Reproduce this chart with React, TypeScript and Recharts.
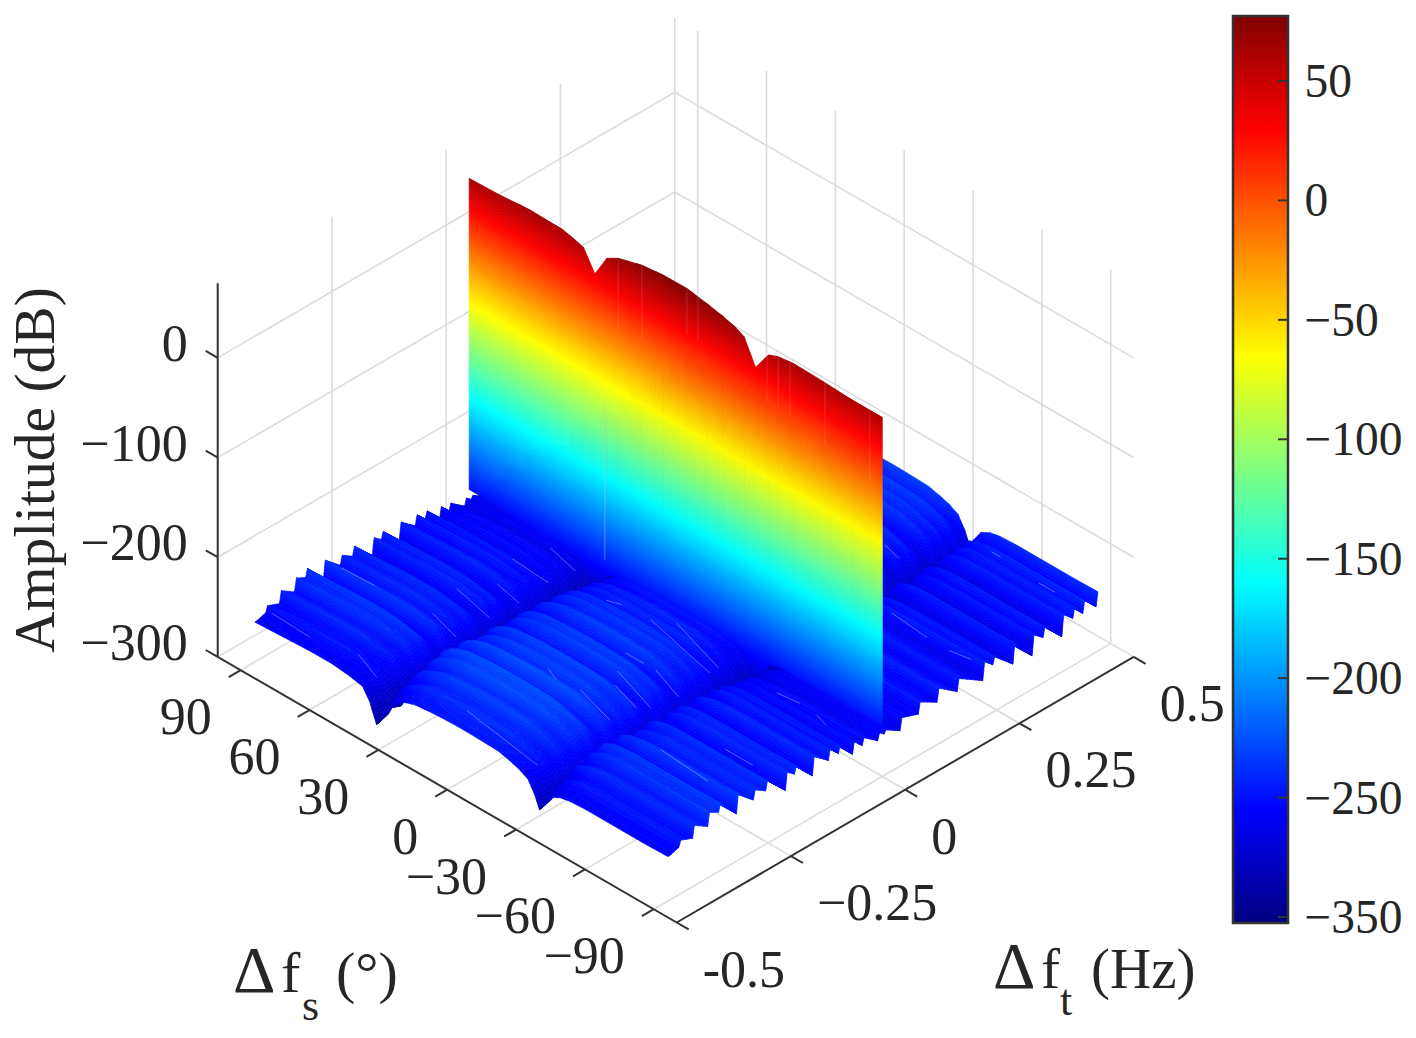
import React from 'react';
import { ScatterChart, Scatter, XAxis, YAxis, ComposedChart, Bar } from 'recharts';

// ---- values ----
const fsTicks = [90, 60, 30, 0, -30, -60, -90];
const fsTickLabels = ['90', '60', '30', '0', '−30', '−60', '−90'];
const ftTicks = [-0.5, -0.25, 0, 0.25, 0.5];
const ftTickLabels = ['-0.5', '−0.25', '0', '0.25', '0.5'];
const zTicks = [0, -100, -200, -300];
const zTickLabels = ['0', '−100', '−200', '−300'];

// dome profile along Δfs (drop in dB from the top of the dome)
const archFs = [90, 82, 74, 65, 56, 49, 43, 40, 37, 34, 31, 28, 24, 20, 14, 8, 2, -4, -10, -16, -21, -25, -29, -32, -34, -36, -39, -43, -47, -54, -62, -70, -80, -90];
const archDrop = [-13, -12, -11, -10, -10, -12, -15, -26, -45, -30, -18, -11, -6, -3, -1.5, -0.5, 0, 0, -0.5, -1, -4, -7, -12, -24, -36, -28, -17, -12, -10, -9, -9, -9, -9, -8.5];

// ripples along Δft: where each step rises, its foot and its tip (dB)
const toothFt = [-0.469, -0.445, -0.415, -0.382, -0.358, -0.319, -0.282, -0.255, -0.212, -0.192, -0.153, -0.118, -0.096, -0.065, -0.044, -0.01, 0.004, 0.039, 0.079, 0.12, 0.164, 0.22, 0.242, 0.286, 0.328, 0.352, 0.393, 0.417, 0.439, 0.468];
const toothFoot = [-247, -244, -243, -240, -232, -244, -240, -238, -249, -238, -250, -244, -243, -252, -249, -253, -250, -256, -250, -249, -250, -254, -244, -255, -258, -246, -256, -244, -245, -246];
const toothTip = [-247, -238, -231, -227, -224, -226, -231, -229, -232, -231, -232, -234, -236, -240, -242, -246, -247, -244, -239, -236, -238, -236, -237, -235, -238, -236, -235, -234, -233, -232];

// the tall wall at Δft = 0
const wallFs = [90, 76.6, 63.4, 49, 44.6, 40.2, 35.2, 30, 25, 14.8, 5.4, -4.8, -13.5, -20.8, -25.8, -29.8, -34.8, -40.4, -44.7, -51.2, -64.4, -77.4, -90];
const wallTop = [60.1, 61.4, 63.9, 63, 60.6, 57.4, 37.3, 59.9, 66.6, 73.4, 75.9, 76.2, 72.7, 69, 65.7, 61, 36.9, 56.7, 60.8, 62.8, 61.9, 60.2, 60.1];
const wallFoot = [-252, -252, -252, -252, -253, -258, -290, -258, -252, -252, -251, -251, -251, -251, -251, -255, -288, -255, -250, -250, -249, -249, -248.4];

// pale seams on the wall
const seamFs = [25.1, 14.7, -4.9, -9.7, -39.8, -44.6, -49.8, -65, -84.6];
const seamHigh = [65.5, 72.7, 75.9, 74, 57, 61, 63, 62, 60.5];
const seamLow = [-5, 0, 30, 30, 10, 10, 10, 0, -10];

// pale wire glints lying on the ripples, as Δfs/Δft ends at the ripple height
const GLINT_Z = -240;
const glintFsA = [-14, -15, -20, -23, -10, -10, 50, 46, 44, -3, 14, 3, 47, 51, 48, 82, 84, 1, -54, -68, -80, -26, -53, -58, -52, -75, -74];
const glintFtA = [-0.279, -0.203, -0.233, -0.159, -0.048, -0.16, -0.106, -0.044, -0.17, -0.07, -0.082, -0.442, -0.296, -0.223, -0.454, -0.471, -0.31, -0.274, -0.304, -0.233, 0.198, 0.327, 0.206, -0.07, 0.43, -0.069, 0.423];
const glintFsB = [-32, -36, -33, -38, -36, -18, 33, 32, 32, -36, 9, -33, 33, 33, 35, 65, 70, -5, -76, -80, -88, -34, -70, -67, -56, -81, -81];
const glintFtB = [-0.304, -0.236, -0.252, -0.185, -0.087, -0.16, -0.112, -0.06, -0.182, -0.106, -0.073, -0.468, -0.315, -0.242, -0.478, -0.475, -0.307, -0.286, -0.312, -0.233, 0.205, 0.317, 0.198, -0.065, 0.43, -0.077, 0.423];

// colour bar
const barTicks = [50, 0, -50, -100, -150, -200, -250, -300];
const barTickLabels = ['50', '0', '−50', '−100', '−150', '−200', '−250', '−350'];
const barRange = [-302.5, 77.2];

// ---- view ----
const FONT = '"Liberation Serif", "Times New Roman", serif';
const INK = '#262626';
const Z_TOP = 75;
const project = (fs: number, ft: number, z: number) => {
  const u = (fs + 100) / 200;
  const v = ft + 0.5;
  return {
    x: 676.7 - 459 * u + 457 * v,
    y: 922.5 - 265.6 * u - 265.6 * v - (z + 300) * 0.9967,
  };
};

const jet = (p: number) => {
  const c = (t: number) => Math.round(255 * Math.max(0, Math.min(1, t)));
  const r = Math.min(4 * p - 1.5, -4 * p + 4.5);
  const g = Math.min(4 * p - 0.5, -4 * p + 3.5);
  const b = Math.min(4 * p + 0.5, -4 * p + 2.5);
  return `rgb(${c(r)},${c(g)},${c(b)})`;
};
const colorOf = (z: number) => jet((z - barRange[0]) / (barRange[1] - barRange[0]));

// ---- meshes: four table rows per cell ----
type V = { x: number; y: number; z: number };
const cell = (a: number[], b: number[], c: number[], d: number[]): V[] =>
  [a, b, c, d].map(([fs, ft, z]) => ({ ...project(fs, ft, z), z }));

const columns = toothFt.flatMap((ft, i) => [
  { ft, h: toothFoot[i] },
  { ft: ft + 0.004, h: toothTip[i] },
]);

const floorCells = (cols: { ft: number; h: number }[]) => {
  const rows: V[] = [];
  for (let c = cols.length - 1; c > 0; c--) {
    for (let f = 0; f < archFs.length - 1; f++) {
      const hi = cols[c];
      const lo = cols[c - 1];
      rows.push(
        ...cell(
          [archFs[f], hi.ft, hi.h + archDrop[f]],
          [archFs[f + 1], hi.ft, hi.h + archDrop[f + 1]],
          [archFs[f + 1], lo.ft, lo.h + archDrop[f + 1]],
          [archFs[f], lo.ft, lo.h + archDrop[f]],
        ),
      );
    }
  }
  return rows;
};
const floorBack = floorCells(columns.filter((c) => c.ft > 0));
const floorFront = floorCells(columns.filter((c) => c.ft < 0.005));

const wallRows: V[] = [];
wallFs.slice(0, -1).forEach((fs, i) => {
  wallRows.push(
    ...cell(
      [fs, 0, wallFoot[i]],
      [wallFs[i + 1], 0, wallFoot[i + 1]],
      [wallFs[i + 1], 0, wallTop[i + 1]],
      [fs, 0, wallTop[i]],
    ),
  );
});

// ---- guide lines: two rows per segment ----
const seg = (a: number[], b: number[]) => [project(a[0], a[1], a[2]), project(b[0], b[1], b[2])];
const gridRows = [
  ...[0, -100, -200, -300].flatMap((z) => [...seg([100, -0.5, z], [100, 0.5, z]), ...seg([100, 0.5, z], [-100, 0.5, z])]),
  ...ftTicks.flatMap((ft) => [...seg([100, ft, -300], [100, ft, Z_TOP]), ...seg([100, ft, -300], [-100, ft, -300])]),
  ...fsTicks.flatMap((fs) => [...seg([fs, 0.5, -300], [fs, 0.5, Z_TOP]), ...seg([fs, 0.5, -300], [fs, -0.5, -300])]),
];
const axisRows = [
  ...seg([100, -0.5, -300], [100, -0.5, Z_TOP]),
  ...seg([100, -0.5, -300], [-100, -0.5, -300]),
  ...seg([-100, -0.5, -300], [-100, 0.5, -300]),
  ...zTicks.flatMap((z) => seg([100, -0.5, z], [105.2, -0.5, z])),
  ...fsTicks.flatMap((fs) => seg([fs, -0.5, -300], [fs, -0.526, -300])),
  ...ftTicks.flatMap((ft) => seg([-100, ft, -300], [-105.2, ft, -300])),
];
const seamRows = seamFs.flatMap((fs, i) => seg([fs, 0, seamHigh[i]], [fs, 0, seamLow[i]]));
const streakRows = seg([30.9, 0, -86], [30.9, 0, -244]);
const glintRows = glintFsA.flatMap((fs, i) => seg([fs, glintFtA[i], GLINT_Z], [glintFsB[i], glintFtB[i], GLINT_Z]));

const labelRows = [
  ...zTicks.map((z, i) => ({ ...project(100, -0.5, z), text: zTickLabels[i], dx: -30, dy: -14.5, anchor: 'end' })),
  ...fsTicks.map((fs, i) => ({ ...project(fs, -0.5, -300), text: fsTickLabels[i], dx: -29, dy: 46.5, anchor: 'end' })),
  ...ftTicks.map((ft, i) => ({ ...project(-100, ft, -300), text: ftTickLabels[i], dx: 26, dy: 46.5, anchor: 'start' })),
];

// ---- renderers ----
const NoDot = () => null;

const clip = (poly: V[], level: number, keepAbove: boolean) => {
  const out: V[] = [];
  const inside = (p: V) => (keepAbove ? p.z >= level : p.z <= level);
  poly.forEach((p, i) => {
    const q = poly[(i + 1) % poly.length];
    if (inside(p)) out.push(p);
    if (inside(p) !== inside(q)) {
      const t = (level - p.z) / (q.z - p.z);
      out.push({ x: p.x + t * (q.x - p.x), y: p.y + t * (q.y - p.y), z: level });
    }
  });
  return out;
};

const meshLine = (rows: V[], step: number) => (props: any) => {
  const pts = props.points as { x: number; y: number }[];
  const out: React.ReactNode[] = [];
  for (let i = 0; i + 3 < pts.length; i += 4) {
    const quad: V[] = [0, 1, 2, 3].map((k) => ({ x: pts[i + k].x, y: pts[i + k].y, z: rows[i + k].z }));
    const zs = quad.map((p) => p.z);
    const lo = Math.floor(Math.min(...zs) / step);
    const hi = Math.ceil(Math.max(...zs) / step);
    for (let k = lo; k < hi; k++) {
      const a = k * step;
      const b = (k + 1) * step;
      const poly = clip(clip(quad, a, true), b, false);
      if (poly.length < 3) continue;
      const color = colorOf((a + b) / 2);
      out.push(
        <polygon
          key={`${i}-${k}`}
          points={poly.map((p) => `${p.x.toFixed(1)},${p.y.toFixed(1)}`).join(' ')}
          fill={color}
          stroke={color}
          strokeWidth={0.7}
        />,
      );
    }
  }
  return <g>{out}</g>;
};

const segmentLine = (color: string, width: number) => (props: any) => {
  const pts = props.points as { x: number; y: number }[];
  let d = '';
  for (let i = 0; i + 1 < pts.length; i += 2) {
    d += `M${pts[i].x} ${pts[i].y}L${pts[i + 1].x} ${pts[i + 1].y}`;
  }
  return <path d={d} stroke={color} strokeWidth={width} fill="none" />;
};

const TickLabel = (p: any) => (
  <text
    x={p.cx + p.payload.dx}
    y={p.cy + p.payload.dy + 17.6}
    textAnchor={p.payload.anchor}
    fontFamily={FONT}
    fontSize={52}
    fill={INK}
  >
    {p.payload.text}
  </text>
);

const ZTitle = (p: any) => (
  <text
    transform={`translate(${p.cx},${p.cy}) rotate(-90)`}
    textAnchor="middle"
    fontFamily={FONT}
    fontSize={57.5}
    fill={INK}
  >
    Amplitude (dB)
  </text>
);
const FsTitle = (p: any) => (
  <text x={p.cx} y={p.cy} fontFamily={FONT} fontSize={58} fill={INK}>
    <tspan fontSize={66}>Δ</tspan>
    <tspan x={p.cx + 48}>f</tspan>
    <tspan x={p.cx + 69} dy={28} fontSize={44}>s</tspan>
    <tspan x={p.cx + 103} dy={-28}>(°)</tspan>
  </text>
);
const FtTitle = (p: any) => (
  <text x={p.cx} y={p.cy} fontFamily={FONT} fontSize={57} fill={INK}>
    <tspan fontSize={66}>Δ</tspan>
    <tspan x={p.cx + 48}>f</tspan>
    <tspan x={p.cx + 67} dy={27} fontSize={44}>t</tspan>
    <tspan x={p.cx + 98} dy={-27}>(Hz)</tspan>
  </text>
);

const BarTick = (p: any) => {
  const i = barTicks.indexOf(p.payload.value);
  return (
    <g>
      <line x1={p.x - 10} x2={p.x} y1={p.y} y2={p.y} stroke="#333" strokeWidth={2} />
      <text x={p.x + 16.5} y={p.y + 16} fontFamily={FONT} fontSize={47.5} fill={INK}>
        {barTickLabels[i]}
      </text>
    </g>
  );
};

const jetStops = [0, 0.125, 0.25, 0.375, 0.5, 0.625, 0.75, 0.875, 1];

const FLOOR_BACK = meshLine(floorBack, 3);
const WALL = meshLine(wallRows, 3);
const FLOOR_FRONT = meshLine(floorFront, 3);
const GRID = segmentLine('#dcdcdc', 1.6);
const AXES = segmentLine('#333333', 2);
const SEAMS = segmentLine('rgba(255,255,255,0.14)', 1);
const STREAK = segmentLine('rgba(190,200,210,0.3)', 1.6);
const GLINTS = segmentLine('rgba(170,190,255,0.55)', 0.9);

export default function App() {
  return (
    <div style={{ position: 'absolute', left: 0, top: 0, width: 1416, height: 1038, overflow: 'hidden', background: '#fff' }}>
      <div style={{ position: 'absolute', left: 0, top: 0 }}>
        <ScatterChart width={1416} height={1038} margin={{ top: 0, right: 0, bottom: 0, left: 0 }}>
          <XAxis type="number" dataKey="x" domain={[0, 1416]} hide />
          <YAxis type="number" dataKey="y" domain={[0, 1038]} reversed hide />
          <Scatter data={gridRows} line={GRID} shape={NoDot} isAnimationActive={false} />
          <Scatter data={axisRows} line={AXES} shape={NoDot} isAnimationActive={false} />
          <Scatter data={floorBack} line={FLOOR_BACK} shape={NoDot} isAnimationActive={false} />
          <Scatter data={wallRows} line={WALL} shape={NoDot} isAnimationActive={false} />
          <Scatter data={seamRows} line={SEAMS} shape={NoDot} isAnimationActive={false} />
          <Scatter data={streakRows} line={STREAK} shape={NoDot} isAnimationActive={false} />
          <Scatter data={floorFront} line={FLOOR_FRONT} shape={NoDot} isAnimationActive={false} />
          <Scatter data={glintRows} line={GLINTS} shape={NoDot} isAnimationActive={false} />
          <Scatter data={labelRows} shape={TickLabel} isAnimationActive={false} />
          <Scatter data={[{ x: 54, y: 470 }]} shape={ZTitle} isAnimationActive={false} />
          <Scatter data={[{ x: 233, y: 992 }]} shape={FsTitle} isAnimationActive={false} />
          <Scatter data={[{ x: 993, y: 988 }]} shape={FtTitle} isAnimationActive={false} />
        </ScatterChart>
      </div>
      <div style={{ position: 'absolute', left: 1220, top: 0 }}>
        <ComposedChart
          width={196}
          height={1038}
          data={[{ name: 'jet', range: barRange }]}
          margin={{ top: 16, right: 0, bottom: 115, left: 13 }}
          barCategoryGap={0}
        >
          <defs>
            <linearGradient id="jetBar" x1="0" y1="1" x2="0" y2="0">
              {jetStops.map((s) => (
                <stop key={s} offset={s} stopColor={jet(s)} />
              ))}
            </linearGradient>
          </defs>
          <XAxis dataKey="name" hide />
          <YAxis
            orientation="right"
            type="number"
            width={128}
            domain={barRange}
            ticks={barTicks}
            interval={0}
            tick={BarTick}
            tickLine={false}
            tickSize={0}
            tickMargin={0}
            axisLine={false}
          />
          <Bar dataKey="range" fill="url(#jetBar)" stroke="#333" strokeWidth={2.5} isAnimationActive={false} />
        </ComposedChart>
      </div>
    </div>
  );
}
